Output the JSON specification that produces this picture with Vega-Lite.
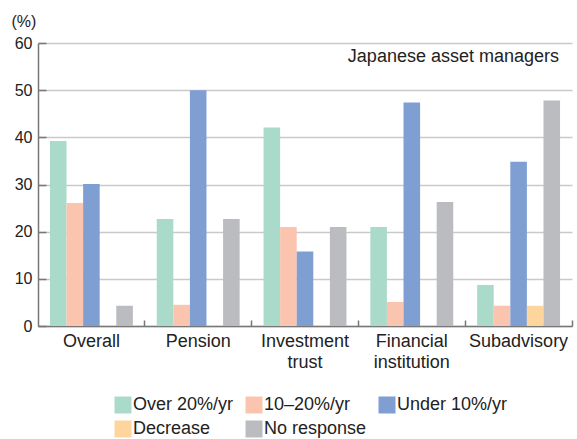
{
  "$schema": "https://vega.github.io/schema/vega-lite/v6.json",
  "width": 534,
  "height": 283,
  "autosize": "none",
  "padding": {"left": 38, "top": 43, "right": 5, "bottom": 113},
  "background": "white",
  "config": {
    "view": {"stroke": null},
    "font": "Liberation Sans",
    "axis": {"labelColor": "#222", "labelFont": "Liberation Sans", "titleColor": "#222"}
  },
  "encoding": {
    "x": {
      "field": "category",
      "type": "nominal",
      "sort": ["Overall", "Pension", "Investment trust", "Financial institution", "Subadvisory"],
      "scale": {"paddingInner": 0, "paddingOuter": 0},
      "axis": {
        "title": null,
        "labelAngle": 0,
        "bandPosition": 1,
        "labelFontSize": 18,
        "labelLineHeight": 21,
        "labelBaseline": "top",
        "labelPadding": 12,
        "labelExpr": "datum.label == 'Investment trust' || datum.label == 'Financial institution' ? split(datum.label, ' ') : datum.label",
        "tickSize": -6,
        "tickColor": "#777",
        "tickWidth": 1.5,
        "domainColor": "#777",
        "domainWidth": 1.5
      }
    },
    "y": {
      "field": "value",
      "type": "quantitative",
      "scale": {"domain": [0, 60]},
      "axis": {
        "values": [0, 10, 20, 30, 40, 50, 60],
        "title": "(%)",
        "titleAngle": 0,
        "titleAlign": "left",
        "titleBaseline": "middle",
        "titleX": -27,
        "titleY": -22,
        "titleFontSize": 16,
        "titleFontWeight": "normal",
        "labelFontSize": 16,
        "labelPadding": 14,
        "tickSize": -8,
        "tickColor": "#777",
        "tickWidth": 1.5,
        "domainColor": "#777",
        "domainWidth": 1.5,
        "grid": true,
        "gridColor": "#c9c9c9",
        "gridWidth": 1.5
      }
    }
  },
  "layer": [
    {
      "data": {
        "values": [
          {"category": "Overall", "series": "Over 20%/yr", "value": 39.2},
          {"category": "Overall", "series": "10–20%/yr", "value": 26.1},
          {"category": "Overall", "series": "Under 10%/yr", "value": 30.1},
          {"category": "Overall", "series": "Decrease", "value": 0},
          {"category": "Overall", "series": "No response", "value": 4.3},
          {"category": "Pension", "series": "Over 20%/yr", "value": 22.7},
          {"category": "Pension", "series": "10–20%/yr", "value": 4.5},
          {"category": "Pension", "series": "Under 10%/yr", "value": 50},
          {"category": "Pension", "series": "Decrease", "value": 0},
          {"category": "Pension", "series": "No response", "value": 22.7},
          {"category": "Investment trust", "series": "Over 20%/yr", "value": 42.1},
          {"category": "Investment trust", "series": "10–20%/yr", "value": 21.0},
          {"category": "Investment trust", "series": "Under 10%/yr", "value": 15.8},
          {"category": "Investment trust", "series": "Decrease", "value": 0},
          {"category": "Investment trust", "series": "No response", "value": 21.0},
          {"category": "Financial institution", "series": "Over 20%/yr", "value": 21.0},
          {"category": "Financial institution", "series": "10–20%/yr", "value": 5.1},
          {"category": "Financial institution", "series": "Under 10%/yr", "value": 47.4},
          {"category": "Financial institution", "series": "Decrease", "value": 0},
          {"category": "Financial institution", "series": "No response", "value": 26.3},
          {"category": "Subadvisory", "series": "Over 20%/yr", "value": 8.7},
          {"category": "Subadvisory", "series": "10–20%/yr", "value": 4.3},
          {"category": "Subadvisory", "series": "Under 10%/yr", "value": 34.8},
          {"category": "Subadvisory", "series": "Decrease", "value": 4.3},
          {"category": "Subadvisory", "series": "No response", "value": 47.8}
        ]
      },
      "mark": {"type": "bar"},
      "encoding": {
        "xOffset": {
          "field": "series",
          "sort": ["Over 20%/yr", "10–20%/yr", "Under 10%/yr", "Decrease", "No response"],
          "scale": {"paddingInner": 0, "paddingOuter": 0.72}
        },
        "color": {
          "field": "series",
          "type": "nominal",
          "sort": ["Over 20%/yr", "10–20%/yr", "Under 10%/yr", "Decrease", "No response"],
          "scale": {
            "domain": ["Over 20%/yr", "10–20%/yr", "Under 10%/yr", "Decrease", "No response"],
            "range": ["#aadbca", "#fac4ae", "#7f9fd3", "#fed59d", "#bbbcc0"]
          },
          "legend": {
            "title": null,
            "orient": "none",
            "legendX": 76,
            "legendY": 353,
            "direction": "horizontal",
            "columns": 3,
            "columnPadding": 11,
            "rowPadding": 6,
            "symbolType": "square",
            "symbolSize": 289,
            "symbolStrokeWidth": 0,
            "symbolOpacity": 1,
            "labelFontSize": 18,
            "labelColor": "#222",
            "labelFont": "Liberation Sans",
            "labelOffset": 1,
            "labelLimit": 200
          }
        }
      }
    },
    {
      "data": {"values": [{"category": "Subadvisory", "value": 56, "note": "Japanese asset managers"}]},
      "mark": {
        "type": "text",
        "align": "right",
        "baseline": "alphabetic",
        "dx": -13,
        "fontSize": 18,
        "color": "#222",
        "font": "Liberation Sans"
      },
      "encoding": {
        "x": {"field": "category", "type": "nominal", "bandPosition": 1},
        "y": {"field": "value", "type": "quantitative"},
        "text": {"field": "note"}
      }
    }
  ]
}
